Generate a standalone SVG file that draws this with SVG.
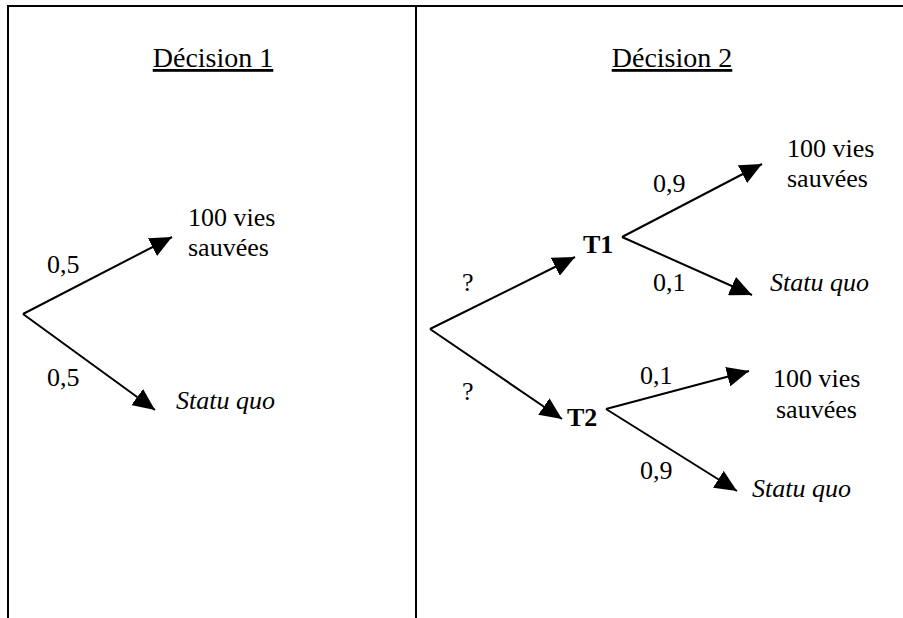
<svg xmlns="http://www.w3.org/2000/svg" width="903" height="618" viewBox="0 0 903 618">
  <defs>
    <marker id="head" markerUnits="userSpaceOnUse" markerWidth="22" markerHeight="20" refX="22" refY="10" orient="auto">
      <path d="M0,0 L22,10 L0,20 z" fill="#000"/>
    </marker>
    <style>
      text { font-family: "Liberation Serif", "Times New Roman", Times, "Noto Serif", "DejaVu Serif", serif; font-size: 26px; fill: #000; }
      .title { font-size: 28px; text-decoration: underline; }
      .it { font-style: italic; }
      .bold { font-weight: bold; }
      .frame { stroke: #000; stroke-width: 2; fill: none; }
      .edge { stroke: #000; stroke-width: 2; fill: none; marker-end: url(#head); }
    </style>
  </defs>

  <rect width="903" height="618" fill="#fff"/>

  <!-- table frame -->
  <g id="frame">
    <line class="frame" x1="7" y1="6" x2="903" y2="6"/>
    <line class="frame" x1="8" y1="5" x2="8" y2="618"/>
    <line class="frame" x1="416" y1="5" x2="416" y2="618"/>
  </g>

  <!-- column headings -->
  <g id="heading1"><text class="title" x="213" y="67" text-anchor="middle">Décision 1</text></g>
  <g id="heading2"><text class="title" x="672" y="67" text-anchor="middle">Décision 2</text></g>

  <!-- edge labels -->
  <g id="labels">
    <text x="47" y="273">0,5</text>
    <text x="47" y="386">0,5</text>
    <text x="462" y="291">?</text>
    <text x="462" y="400">?</text>
    <text x="653" y="192">0,9</text>
    <text x="653" y="291">0,1</text>
    <text x="640" y="384">0,1</text>
    <text x="640" y="479">0,9</text>
  </g>

  <!-- decision 1 outcomes -->
  <g id="d1-saved">
    <text x="188" y="226">100 vies</text>
    <text x="188" y="256">sauvées</text>
  </g>
  <g id="d1-statu"><text class="it" x="176" y="409">Statu quo</text></g>

  <!-- decision 2 treatments -->
  <g id="t1"><text class="bold" x="583" y="253">T1</text></g>
  <g id="t2"><text class="bold" x="567" y="426">T2</text></g>

  <!-- decision 2 outcomes -->
  <g id="t1-saved">
    <text x="787" y="157">100 vies</text>
    <text x="787" y="187">sauvées</text>
  </g>
  <g id="t1-statu"><text class="it" x="770" y="291">Statu quo</text></g>
  <g id="t2-saved">
    <text x="773" y="387">100 vies</text>
    <text x="776" y="418">sauvées</text>
  </g>
  <g id="t2-statu"><text class="it" x="752" y="497">Statu quo</text></g>

  <!-- connectors -->
  <g id="connectors">
    <line class="edge" x1="23" y1="314" x2="172" y2="237"/>
    <line class="edge" x1="23" y1="314" x2="155" y2="410"/>
    <line class="edge" x1="430" y1="329" x2="575" y2="257"/>
    <line class="edge" x1="430" y1="329" x2="562" y2="419"/>
    <line class="edge" x1="622" y1="237" x2="762" y2="164"/>
    <line class="edge" x1="622" y1="237" x2="752" y2="295"/>
    <line class="edge" x1="606" y1="409" x2="749" y2="371"/>
    <line class="edge" x1="606" y1="409" x2="737" y2="491"/>
  </g>
</svg>
